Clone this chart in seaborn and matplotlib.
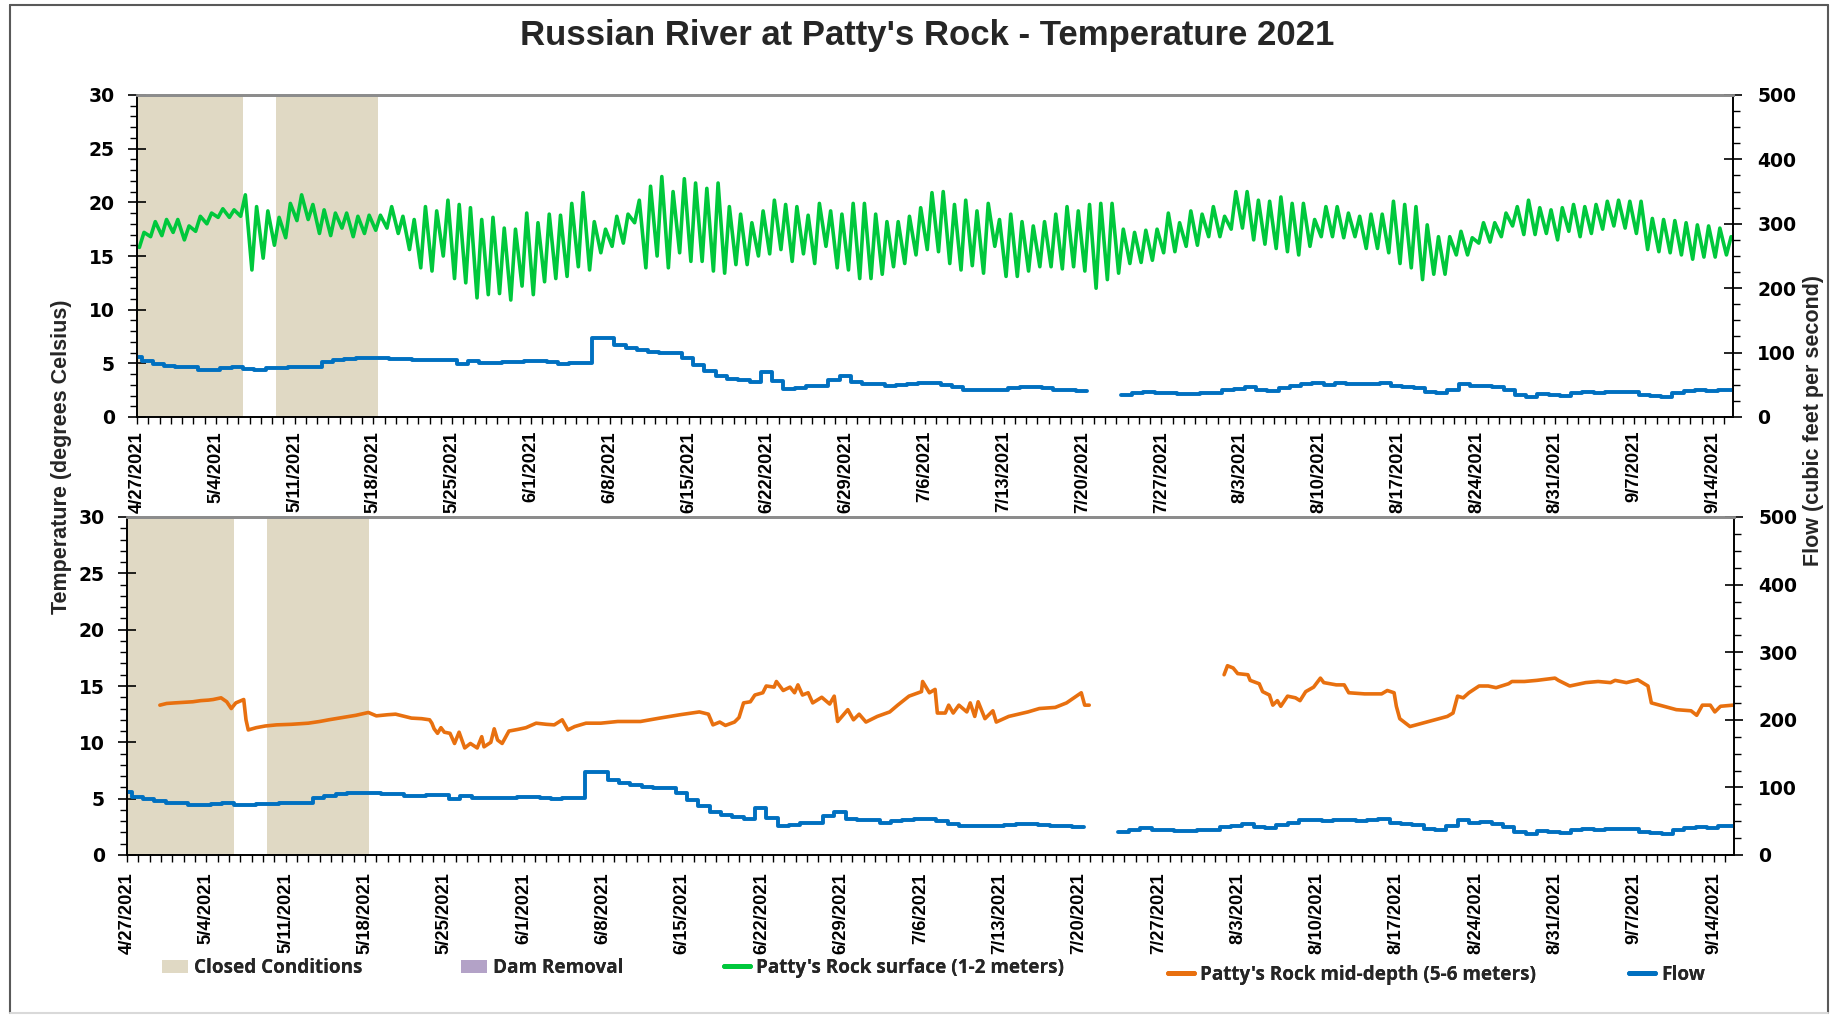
import numpy as np
import pandas as pd
import matplotlib
matplotlib.use("Agg")
import matplotlib.pyplot as plt
import matplotlib.dates as mdates
import seaborn as sns
from matplotlib.patches import Patch
from matplotlib.lines import Line2D
from matplotlib.ticker import MultipleLocator, FixedLocator, FuncFormatter

# ---------------- data ----------------
START = "2021-04-27"
# daily minimum / maximum of the surface logger (4/27 .. 9/15)
surf_min = [15.8, 16.8, 16.9, 17.2, 16.5, 17.3, 18.0, 18.6, 18.6, 18.7,
            13.7, 14.8, 16.0, 16.7, 18.3, 18.4, 17.1, 16.9, 17.6, 16.8,
            17.1, 17.4, 17.6, 17.1, 15.6, 13.9, 13.6, 15.0, 12.9, 12.5,
            11.1, 11.4, 11.5, 10.9, 12.2, 11.4, 12.6, 12.9, 13.1, 14.0,
            13.7, 15.3, 15.9, 16.2, 18.1, 13.9, 15.0, 13.9, 15.3, 14.5,
            14.5, 13.6, 13.4, 14.2, 14.2, 15.0, 15.2, 15.6, 14.5, 15.2,
            14.3, 15.9, 13.9, 13.7, 12.9, 12.9, 13.3, 14.0, 14.3, 15.1,
            15.6, 15.4, 14.3, 13.7, 14.1, 13.4, 15.9, 13.1, 13.1, 13.6,
            14.0, 14.0, 13.8, 14.0, 13.6, 12.0, 12.8, 13.4, 14.3, 14.4,
            14.6, 15.3, 15.4, 15.9, 16.0, 16.8, 16.8, 17.5, 17.6, 16.5,
            16.1, 15.7, 15.4, 15.1, 15.9, 16.8, 16.8, 16.7, 16.8, 15.7,
            15.7, 15.3, 14.3, 13.9, 12.8, 13.3, 13.3, 15.1, 15.1, 16.2,
            16.3, 16.8, 17.8, 17.0, 17.0, 17.1, 16.5, 17.3, 16.8, 17.1,
            17.5, 17.8, 17.6, 17.1, 15.6, 15.4, 15.3, 15.1, 14.7, 14.9,
            14.9, 15.1]
surf_max = [17.2, 18.2, 18.4, 18.4, 17.8, 18.7, 19.0, 19.4, 19.3, 20.7,
            19.6, 19.2, 18.6, 19.9, 20.7, 19.8, 19.3, 19.0, 19.0, 18.7,
            18.8, 18.8, 19.6, 18.7, 18.4, 19.6, 19.2, 20.2, 19.8, 19.5,
            18.4, 18.6, 17.6, 17.5, 19.0, 18.1, 18.9, 18.8, 19.9, 20.9,
            18.2, 17.5, 18.7, 18.9, 20.2, 21.5, 22.4, 21.0, 22.2, 21.8,
            21.3, 21.8, 19.6, 18.9, 18.1, 19.2, 20.2, 19.8, 19.6, 18.8,
            19.9, 19.2, 18.9, 19.9, 19.9, 18.9, 18.2, 18.2, 18.7, 19.5,
            20.9, 21.0, 19.8, 20.2, 19.2, 19.9, 18.4, 18.9, 18.2, 17.8,
            18.2, 18.9, 19.6, 19.2, 19.8, 19.9, 19.9, 17.5, 17.2, 17.4,
            17.5, 19.0, 18.1, 19.2, 18.9, 19.6, 18.7, 21.0, 21.0, 20.2,
            20.1, 20.5, 19.9, 19.9, 18.4, 19.6, 19.6, 19.0, 18.7, 18.9,
            18.9, 20.1, 19.8, 19.6, 17.9, 16.8, 16.8, 17.3, 16.7, 18.1,
            18.1, 19.0, 19.6, 20.2, 19.5, 19.3, 19.5, 19.8, 19.6, 19.8,
            20.1, 20.2, 20.1, 20.1, 18.5, 18.4, 18.3, 18.1, 17.9, 17.8,
            17.6, 16.8]

# mid-depth logger: (days after 4/27, temperature)
mid_day = [2.9, 3.5, 4.2, 5.0, 5.8, 6.5, 7.2, 7.6, 8.3, 8.8, 9.2, 9.6, 10.3, 10.5, 10.7,
           11.4, 12.2, 13.2, 14.5, 16.0, 17.0, 17.8, 19.0, 20.2, 21.3, 22.0, 23.0, 23.7,
           24.5, 25.1, 26.0, 26.7, 26.9, 27.1, 27.4, 27.7, 28.0, 28.5, 28.9, 29.3, 29.8,
           30.3, 30.9, 31.3, 31.5, 32.1, 32.4, 32.7, 33.1, 33.7, 34.5, 35.2, 36.1, 37.0,
           37.7, 38.4, 38.9, 39.5, 40.5, 41.8, 43.3, 45.3, 47.0, 48.8, 50.5, 51.3, 51.7,
           52.3, 52.8, 53.6, 54.0, 54.4, 55.0, 55.4, 56.1, 56.4, 57.1, 57.3, 57.9, 58.5,
           58.9, 59.2, 59.6, 60.1, 60.5, 61.3, 62.0, 62.4, 62.7, 63.6, 64.1, 64.6, 65.2,
           66.2, 67.3, 68.0, 69.0, 70.1, 70.2, 70.8, 71.3, 71.5, 72.2, 72.5, 72.9, 73.4,
           74.1, 74.4, 74.8, 75.1, 75.7, 76.4, 76.7, 77.8, 79.5, 80.5, 81.9, 82.9, 84.2,
           84.5, 84.9,
           96.8, 97.1, 97.6, 98.0, 98.9, 99.1, 99.9, 100.2, 100.8, 101.1, 101.5, 101.8,
           102.4, 103.1, 103.5, 104.0, 104.7, 105.3, 105.6, 106.7, 107.4, 107.8, 109.2,
           110.7, 111.2, 111.8, 112.0, 112.3, 113.2, 114.3, 115.4, 116.5, 117.0, 117.4,
           117.9, 118.4, 119.3, 120.1, 120.8, 121.9, 122.2, 123.3, 124.4, 126.0, 126.3,
           127.3, 128.7, 129.8, 130.9, 131.3, 132.3, 133.3, 134.2, 134.5, 135.6, 136.7,
           138.0, 138.5, 139.0, 139.7, 140.1, 140.6, 141.7]
mid_temp = [13.3, 13.45, 13.5, 13.55, 13.6, 13.7, 13.75, 13.8, 13.95, 13.6, 13.0, 13.5, 13.8, 12.0, 11.1,
            11.3, 11.45, 11.55, 11.6, 11.7, 11.85, 12.0, 12.2, 12.4, 12.65, 12.35, 12.45, 12.5,
            12.3, 12.15, 12.1, 12.0, 11.7, 11.2, 10.8, 11.3, 10.9, 10.8, 9.9, 10.9, 9.5,
            9.9, 9.5, 10.5, 9.6, 10.0, 11.2, 10.2, 9.9, 11.0, 11.15, 11.3, 11.7, 11.6,
            11.55, 12.0, 11.1, 11.4, 11.7, 11.7, 11.85, 11.85, 12.15, 12.45, 12.7, 12.5, 11.55,
            11.8, 11.5, 11.8, 12.2, 13.5, 13.6, 14.2, 14.4, 15.0, 14.9, 15.4, 14.6, 14.9,
            14.4, 15.1, 14.2, 14.4, 13.5, 14.0, 13.4, 14.1, 11.85, 12.9, 12.0, 12.5, 11.8,
            12.3, 12.7, 13.3, 14.1, 14.5, 15.4, 14.4, 14.7, 12.6, 12.6, 13.3, 12.6, 13.3,
            12.7, 13.5, 12.3, 13.6, 12.1, 12.8, 11.8, 12.3, 12.7, 13.0, 13.1, 13.5, 14.4,
            13.3, 13.3,
            16.0, 16.8, 16.6, 16.1, 16.0, 15.5, 15.2, 14.5, 14.2, 13.3, 13.7, 13.2,
            14.1, 13.95, 13.7, 14.5, 14.9, 15.7, 15.3, 15.1, 15.1, 14.4, 14.3,
            14.3, 14.6, 14.4, 13.2, 12.1, 11.4, 11.7, 12.0, 12.3, 12.6, 14.1,
            13.95, 14.4, 15.0, 15.0, 14.85, 15.2, 15.4, 15.4, 15.5, 15.7, 15.5,
            15.0, 15.3, 15.4, 15.3, 15.5, 15.3, 15.55, 15.0, 13.5, 13.2, 12.9,
            12.8, 12.4, 13.3, 13.3, 12.7, 13.2, 13.3]

# daily flow (cfs), one value per day starting 4/26 10:00; NaN = no data
FLOW_START = "2021-04-26 10:00"
flow_cfs = [92.6,
            86.3, 82.7, 79.6, 77.6, 77.6, 73.4, 73.4, 75.5, 77.6, 74.5,
            73.4, 75.5, 75.5, 77.0, 77.0, 77.0, 84.8, 87.9, 90.0, 91.5,
            91.5, 91.5, 90.0, 90.0, 87.9, 87.9, 88.9, 88.9, 82.7, 87.4,
            83.8, 83.8, 84.8, 84.8, 86.3, 86.3, 84.8, 82.2, 83.8, 83.8,
            122.5, 122.5, 111.2, 107.0, 103.4, 100.8, 99.3, 99.3, 91.5, 81.2,
            71.9, 64.1, 59.5, 56.9, 53.8, 69.8, 55.3, 43.4, 45.0, 47.6,
            47.6, 57.9, 63.1, 53.8, 51.2, 51.2, 47.6, 50.2, 51.7, 52.7,
            52.7, 50.2, 46.5, 42.4, 42.4, 42.4, 42.4, 45.0, 46.5, 46.5,
            44.5, 42.4, 42.4, 40.8, np.nan, np.nan, np.nan, 34.6, 37.2, 39.3,
            37.2, 37.2, 36.2, 36.2, 37.2, 37.2, 41.4, 43.4, 46.0, 41.4,
            39.8, 45.0, 47.6, 51.2, 52.2, 50.2, 52.2, 51.7, 50.7, 51.7,
            52.7, 47.6, 46.0, 44.5, 38.8, 37.2, 42.4, 51.2, 47.6, 48.1,
            46.0, 41.4, 34.6, 30.5, 35.7, 34.6, 32.1, 37.2, 38.8, 37.2,
            38.3, 38.3, 38.3, 34.6, 33.1, 31.0, 37.2, 39.8, 41.4, 39.8,
            42.4, 42.4]

closed_start = ["2021-04-26 12:00", "2021-05-09 08:30"]
closed_end = ["2021-05-06 10:30", "2021-05-18 09:30"]
X_MIN, X_MAX = "2021-04-27 00:00", "2021-09-15 19:00"
tick_dates = pd.date_range("2021-04-27", "2021-09-14", freq="7D")

# ---------------- colours / style ----------------
C_GREEN = "#00C83C"
C_ORANGE = "#E8700F"
C_BLUE = "#0070C0"
C_SHADE = "#E0D9C4"
C_DAM = "#B3A2C7"

sns.set_theme(style="white")
plt.rcParams["font.family"] = ["Liberation Sans", "DejaVu Sans"]

W, H = 1841, 1016
fig = plt.figure(figsize=(W / 100, H / 100), dpi=100)

# surface dataframe: min at 05:00, max at 15:00 of each day
day0 = pd.Timestamp(START)
s_t, s_v = [], []
for i, (lo, hi) in enumerate(zip(surf_min, surf_max)):
    s_t += [day0 + pd.Timedelta(days=i, hours=5), day0 + pd.Timedelta(days=i, hours=15)]
    s_v += [lo, hi]
surf = pd.DataFrame({"t": s_t, "temp": s_v})

mid = pd.DataFrame({"t": day0 + pd.to_timedelta(mid_day, unit="D"), "temp": mid_temp})
flow = pd.DataFrame({"t": pd.date_range(FLOW_START, periods=len(flow_cfs), freq="D"),
                     "q": flow_cfs})


def segments(df, col):
    ok = df[col].notna()
    grp = (ok != ok.shift()).cumsum()
    return [g for _, g in df[ok].groupby(grp[ok])]


def mid_segments(df, gap_days=3):
    brk = (df["t"].diff() > pd.Timedelta(days=gap_days)).cumsum()
    return [g for _, g in df.groupby(brk)]


def draw_flow(axf):
    for seg in segments(flow, "q"):
        last = seg.iloc[[-1]].copy()
        last["t"] = last["t"] + pd.Timedelta(days=1)
        seg = pd.concat([seg, last])
        sns.lineplot(data=seg, x="t", y="q", ax=axf, color=C_BLUE, lw=2.8,
                     drawstyle="steps-post", legend=False, estimator=None, sort=False)


XT_SIZE = 13.2


def style_axes(ax, axf, label_pad_x):
    ax.set_ylim(0, 30)
    axf.set_ylim(0, 500)
    ax.set_xlim(pd.Timestamp(X_MIN), pd.Timestamp(X_MAX))
    ax.yaxis.set_major_locator(MultipleLocator(5))
    ax.yaxis.set_minor_locator(MultipleLocator(1))
    axf.yaxis.set_major_locator(MultipleLocator(100))
    axf.yaxis.set_minor_locator(MultipleLocator(25))
    ax.xaxis.set_major_locator(FixedLocator(mdates.date2num(tick_dates)))
    ax.xaxis.set_minor_locator(mdates.DayLocator())
    ax.xaxis.set_major_formatter(FuncFormatter(
        lambda v, p: (lambda d: f"{d.month}/{d.day}/{d.year}")(mdates.num2date(v))))
    for a in (ax, axf):
        a.set_xlabel("")
        a.set_ylabel("")
        for s in a.spines.values():
            s.set_color("black")
            s.set_linewidth(1.2)
        a.spines["top"].set_color("#8C8C8C")
        a.spines["top"].set_linewidth(2)
    ax.tick_params(axis="y", which="major", direction="inout", length=13, width=1.2,
                   colors="black", pad=9.5, left=True, labelsize=13.5)
    ax.tick_params(axis="y", which="minor", direction="out", length=5, width=1.0,
                   colors="black", left=True)
    axf.tick_params(axis="y", which="major", direction="inout", length=13, width=1.2,
                    colors="black", pad=11, right=True, labelsize=13.5)
    axf.tick_params(axis="y", which="minor", direction="out", length=5, width=1.0,
                    colors="black", right=True)
    ax.tick_params(axis="x", which="major", direction="out", length=5, width=1.0,
                   colors="black", bottom=True, pad=label_pad_x, labelsize=XT_SIZE,
                   labelrotation=90)
    ax.tick_params(axis="x", which="minor", direction="out", length=5, width=1.0,
                   colors="black", bottom=True)
    ax.grid(False)
    axf.grid(False)


def panel(rect, series, color, label_pad_x, split):
    ax = fig.add_axes(rect)
    ax.set_facecolor("white")
    for a, b in zip(closed_start, closed_end):
        ax.axvspan(pd.Timestamp(a), pd.Timestamp(b), color=C_SHADE, lw=0, zorder=0)
    for seg in split(series):
        sns.lineplot(data=seg, x="t", y="temp", ax=ax, color=color, lw=2.6,
                     legend=False, estimator=None, sort=False)
    axf = ax.twinx()
    draw_flow(axf)
    style_axes(ax, axf, label_pad_x)
    return ax, axf


ax1, ax1f = panel([137 / W, 1 - 417 / H, (1733 - 137) / W, (417 - 95) / H],
                  surf, C_GREEN, 5.0, lambda d: [d])
ax2, ax2f = panel([127 / W, 1 - 855 / H, (1734 - 127) / W, (855 - 517) / H],
                  mid, C_ORANGE, 7.5, mid_segments)
for a in (ax1, ax2):
    a.set_xlim(pd.Timestamp(X_MIN), pd.Timestamp(X_MAX))

# ---------------- texts ----------------
fig.text(927 / W, 1 - 35 / H, "Russian River at Patty's Rock - Temperature 2021",
         ha="center", va="center", fontsize=25, fontweight="bold", family="Liberation Sans")
fig.text(62 / W, 1 - 457 / H, "Temperature (degrees Celsius)", rotation=90,
         ha="center", va="center", fontsize=15.5, fontweight="bold", family="Liberation Sans")
fig.text(1813 / W, 1 - 421 / H, "Flow (cubic feet per second)", rotation=90,
         ha="center", va="center", fontsize=15.5, fontweight="bold", family="Liberation Sans")

# ---------------- legend entries ----------------
leg_prop = {"family": "Open Sans", "weight": "bold", "size": 13.6}
entries = [
    (Patch(facecolor=C_SHADE, edgecolor="none"), "Closed Conditions", 162, 968),
    (Patch(facecolor=C_DAM, edgecolor="none"), "Dam Removal", 461, 968),
    (Line2D([], [], color=C_GREEN, lw=3.5), "Patty's Rock surface (1-2 meters)", 724, 968),
    (Line2D([], [], color=C_ORANGE, lw=3.5), "Patty's Rock mid-depth (5-6 meters)", 1168, 975),
    (Line2D([], [], color=C_BLUE, lw=3.5), "Flow", 1629, 975),
]
for h, lab, x, y in entries:
    lg = fig.legend(handles=[h], labels=[lab], loc="center left",
                    bbox_to_anchor=(x / W, 1 - y / H), frameon=False, borderpad=0,
                    borderaxespad=0, handlelength=1.4, handletextpad=0.3, prop=leg_prop)
    fig.add_artist(lg)

# outer frame
fig.add_artist(Line2D([10 / W, 10 / W], [1 - 1013 / H, 1 - 5 / H], color="#595959", lw=1.5))
fig.add_artist(Line2D([10 / W, 1828 / W], [1 - 5 / H, 1 - 5 / H], color="#595959", lw=1.5))
fig.add_artist(Line2D([1828 / W, 1828 / W], [1 - 1013 / H, 1 - 5 / H], color="#595959", lw=1.5))
fig.add_artist(Line2D([10 / W, 1828 / W], [1 - 1013 / H, 1 - 1013 / H], color="#D9D9D9", lw=1.5))

# tick label fonts (after the ticks exist)
fig.canvas.draw()
for ax, axf in ((ax1, ax1f), (ax2, ax2f)):
    for t in ax.get_yticklabels() + axf.get_yticklabels():
        t.set_fontfamily("DejaVu Sans")
        t.set_fontweight("bold")
        t.set_fontsize(13.5)
    for t in ax.get_xticklabels():
        t.set_fontfamily("Liberation Sans")
        t.set_fontweight("bold")
        t.set_fontsize(XT_SIZE)

fig.savefig("out.png", dpi=100, facecolor="white")
